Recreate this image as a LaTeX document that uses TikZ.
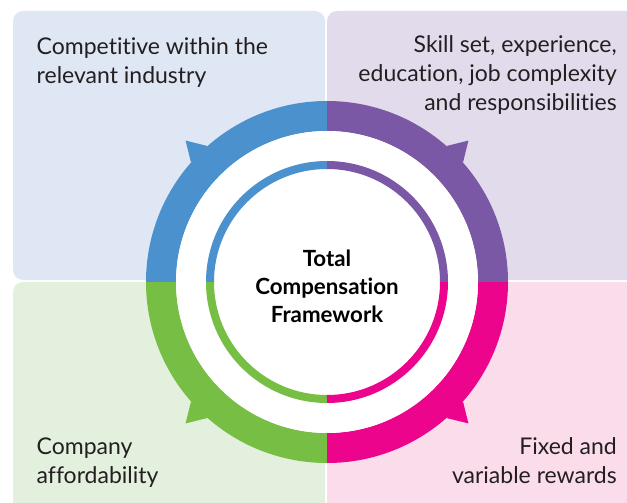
\documentclass[tikz,border=0pt]{standalone}
\usepackage{fontspec}
\setmainfont{Lato}[Ligatures=NoCommon]
\usetikzlibrary{calc}
\definecolor{cblue}{HTML}{4B91CE}
\definecolor{cpurple}{HTML}{7B58A5}
\definecolor{cgreen}{HTML}{76BE44}
\definecolor{cmagenta}{HTML}{EC058C}
\definecolor{pblue}{HTML}{DFE6F4}
\definecolor{ppurple}{HTML}{E2DBEC}
\definecolor{pgreen}{HTML}{E4F0DE}
\definecolor{ppink}{HTML}{FBDCEA}
\definecolor{txt}{HTML}{231F20}
\tikzset{
  panel/.style={rounded corners=10pt},
  lbl/.style={inner sep=0pt, text=txt, font=\fontsize{23}{29}\selectfont},
  ctr/.style={inner sep=0pt, text=black, align=center, font=\fontsize{22.3}{28}\selectfont\bfseries},
}
\begin{document}
\begin{tikzpicture}[x=1pt,y=-1pt]
\useasboundingbox (0,0) rectangle (627,503);
\begin{scope}
\clip (0,0) rectangle (627,503);
% panels
\fill[pblue,panel] (13,11) rectangle (325,280);
\fill[ppurple,panel] (327,11) rectangle (640,280);
\fill[pgreen,panel] (13,282) rectangle (325,520);
\fill[ppink,panel] (327,282) rectangle (640,520);
\coordinate (c) at (327,282);
% outer ring quarters (y axis points down, so angles run clockwise on screen)
\foreach \s/\col in {180/cblue,270/cpurple,90/cgreen,0/cmagenta}{
  \fill[\col] (c) ++(\s:181) arc[start angle=\s,end angle=\s+90,radius=181]
     -- ($(c)+(\s+90:151)$) arc[start angle=\s+90,end angle=\s,radius=151] -- cycle;
}
% spikes
\foreach \a/\col in {225/cblue,315/cpurple,135/cgreen,45/cmagenta}{
  \fill[\col] ($(c)+(\a:200)$) -- ($(c)+(\a+3.6:181.5)$) -- ($(c)+(\a:175)$) -- ($(c)+(\a-3.6:181.5)$) -- cycle;
}
% white inner disk
\fill[white] (c) circle[radius=151];
% thin ring
\foreach \s/\col in {180/cblue,270/cpurple,90/cgreen,0/cmagenta}{
  \draw[\col,line width=8pt] (c) ++(\s:117) arc[start angle=\s,end angle=\s+90,radius=117];
}
\end{scope}
% texts
\node[lbl,anchor=base west,align=left] (tl) at (36.5,83.3) {Competitive within the\\relevant industry};
\node[lbl,anchor=base east,align=right] (tr) at (617,110.5) {Skill set, experience,\\education, job complexity\\and responsibilities};
\node[lbl,anchor=base west,align=left] (bl) at (36.5,483.3) {Company\\affordability};
\node[lbl,anchor=base east,align=right] (br) at (617,483.3) {Fixed and\\variable rewards};
\node[ctr,anchor=base] (center) at (327,322) {Total\\Compensation\\Framework};
\end{tikzpicture}
\end{document}
